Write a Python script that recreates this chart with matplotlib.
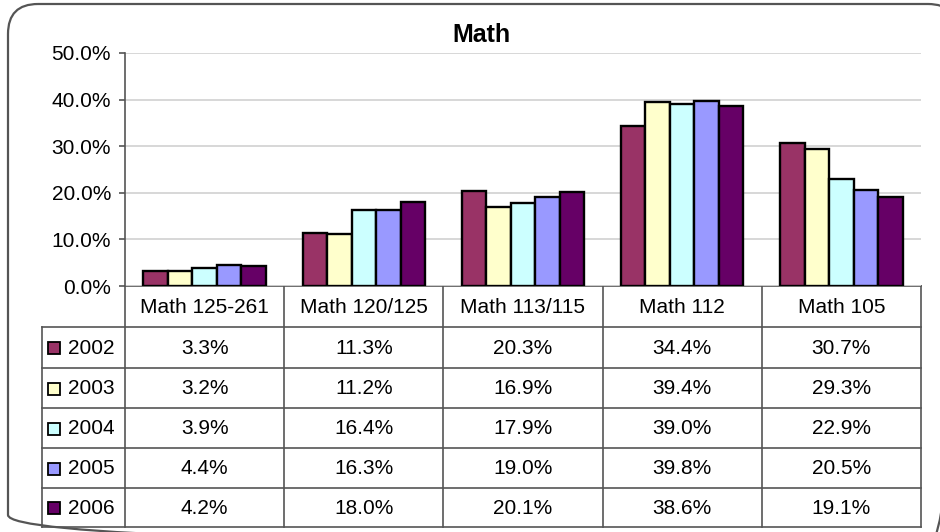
import matplotlib
matplotlib.use("Agg")
import matplotlib.pyplot as plt
from matplotlib.patches import FancyBboxPatch, Rectangle
import numpy as np

plt.rcParams['font.family'] = ['Liberation Sans', 'DejaVu Sans']

title = "Math"
categories = ["Math 125-261", "Math 120/125", "Math 113/115", "Math 112", "Math 105"]
years = ["2002", "2003", "2004", "2005", "2006"]
v2002 = [3.3, 11.3, 20.3, 34.4, 30.7]
v2003 = [3.2, 11.2, 16.9, 39.4, 29.3]
v2004 = [3.9, 16.4, 17.9, 39.0, 22.9]
v2005 = [4.4, 16.3, 19.0, 39.8, 20.5]
v2006 = [4.2, 18.0, 20.1, 38.6, 19.1]
series = [v2002, v2003, v2004, v2005, v2006]
colors = ["#993366", "#FFFFCC", "#CCFFFF", "#9999FF", "#660066"]
yticks = [0, 10, 20, 30, 40, 50]

W, H = 940, 532
fig = plt.figure(figsize=(W / 100, H / 100), dpi=100)
fig.patch.set_facecolor("white")

# overlay axes in pixel coordinates
fa = fig.add_axes([0, 0, 1, 1])
fa.set_xlim(0, W)
fa.set_ylim(H, 0)
fa.axis("off")

# rounded border (extends beyond the image on right/bottom)
border = FancyBboxPatch((8, 4), 950, 541, boxstyle="round,pad=0,rounding_size=30",
                        fill=False, edgecolor="#555555", linewidth=1.6, zorder=1)
fa.add_patch(border)

# plot area
left, right, top, bottom = 125, 921, 53, 286
ax = fig.add_axes([left / W, (H - bottom) / H, (right - left) / W, (bottom - top) / H])
ax.set_facecolor("none")
n = len(categories)
ns = len(series)
gap = 1.5
bw = 1.0 / (ns + gap)
x = np.arange(n)
for i, (vals, c) in enumerate(zip(series, colors)):
    offs = -0.5 + bw * gap / 2 + bw * i + bw / 2
    ax.bar(x + offs, vals, width=bw, color=c, edgecolor="black", linewidth=1.7, zorder=3)
ax.set_xlim(-0.5, n - 0.5)
ax.set_ylim(0, 50)
ax.set_yticks(yticks)
ax.set_yticklabels([f"{t:.1f}%" for t in yticks], fontsize=15)
ax.set_xticks([])
ax.yaxis.grid(True, color="#d4d4d4", linewidth=1.3, zorder=0)
for s in ["top", "right", "bottom"]:
    ax.spines[s].set_visible(False)
ax.spines["left"].set_color("#555555")
ax.spines["left"].set_linewidth(1.2)
ax.tick_params(axis="y", direction="out", length=4, width=1.2, color="#555555", pad=6)

fig.text(481 / W, 1 - 35 / H, title, fontsize=18, fontweight="bold", ha="center", va="center")

# data table
col_w = (right - left) / n
rows_y = [286, 327, 368, 408, 448, 488, 527]
lc = "#555555"
lw = 1.2
fa.plot([left, right], [rows_y[0], rows_y[0]], color=lc, lw=lw, zorder=2)
for yy in rows_y[1:]:
    fa.plot([42, right], [yy, yy], color=lc, lw=lw, zorder=2)
fa.plot([42, 42], [rows_y[1], rows_y[-1]], color=lc, lw=lw, zorder=2)
for j in range(n + 1):
    xx = left + j * col_w
    fa.plot([xx, xx], [rows_y[0], rows_y[-1]], color=lc, lw=lw, zorder=2)

for j, cat in enumerate(categories):
    fa.text(left + (j + 0.5) * col_w, (rows_y[0] + rows_y[1]) / 2 + 1, cat,
            fontsize=15, ha="center", va="center")
for i, (yr, vals, c) in enumerate(zip(years, series, colors)):
    yc = (rows_y[i + 1] + rows_y[i + 2]) / 2 + 1
    fa.add_patch(Rectangle((48, yc - 6.5), 12, 12, facecolor=c, edgecolor="black",
                           linewidth=1.3, zorder=3))
    fa.text(68, yc, yr, fontsize=15, ha="left", va="center")
    for j, v in enumerate(vals):
        fa.text(left + (j + 0.5) * col_w, yc, f"{v:.1f}%", fontsize=15,
                ha="center", va="center")

fig.savefig("out.png", dpi=100)
